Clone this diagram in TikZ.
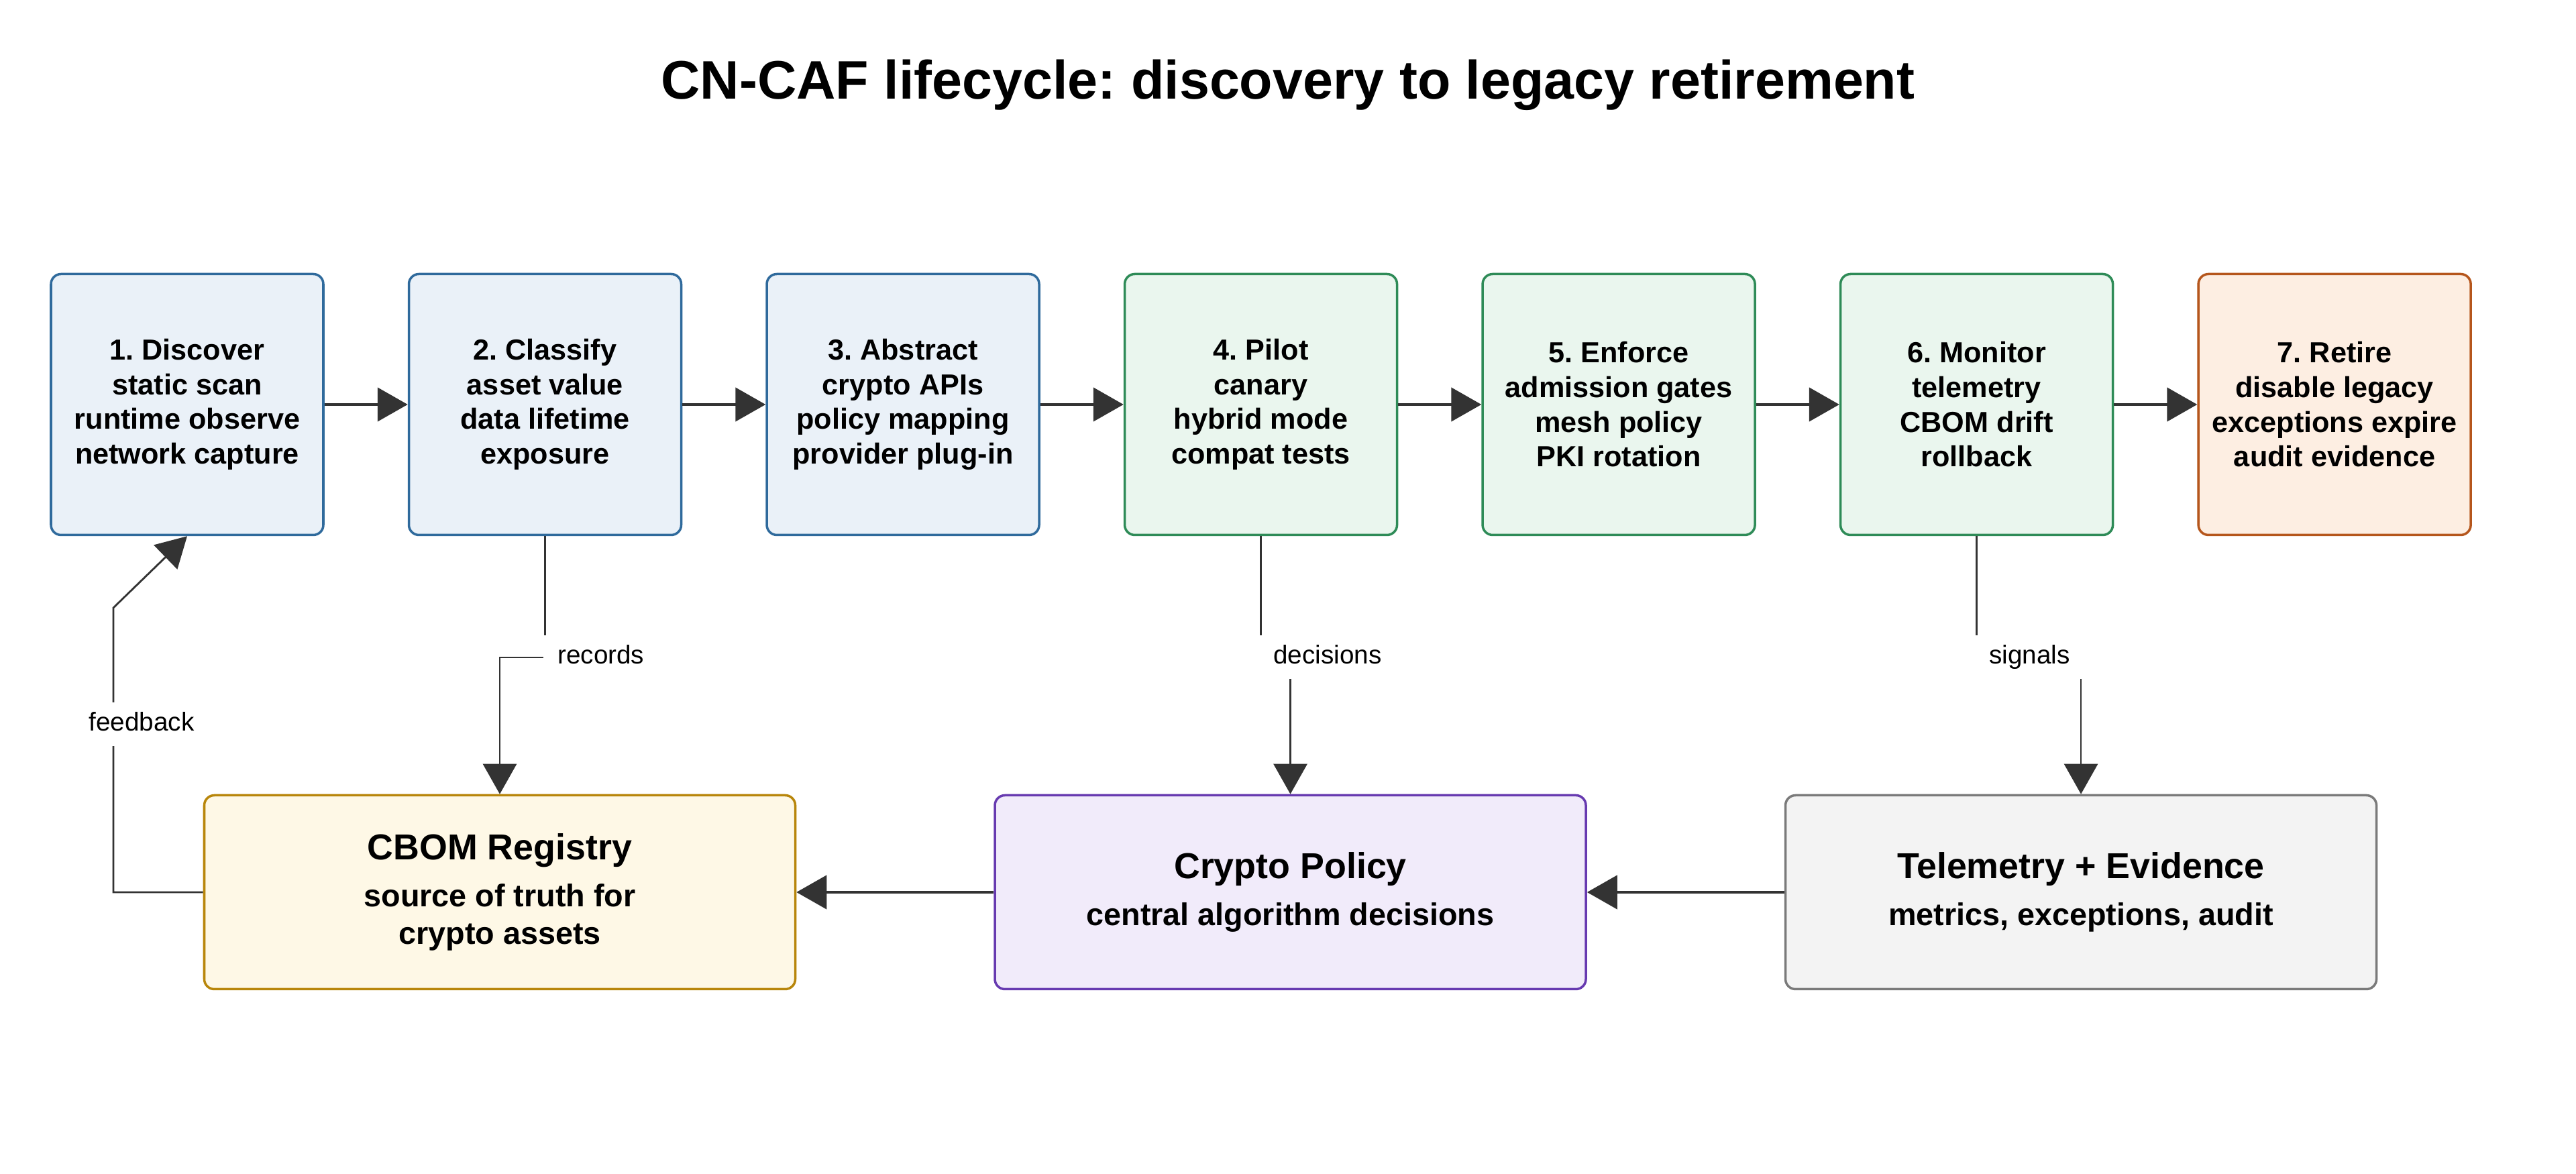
\documentclass[tikz,border=0pt]{standalone}
\usepackage{fontspec}
\setmainfont{Liberation Sans}
\usetikzlibrary{arrows.meta, positioning}
\frenchspacing
\definecolor{bluefill}{HTML}{EAF1F8}
\definecolor{bluedraw}{HTML}{2F6A9C}
\definecolor{greenfill}{HTML}{EAF6EE}
\definecolor{greendraw}{HTML}{2E8B57}
\definecolor{orangefill}{HTML}{FDEEE2}
\definecolor{orangedraw}{HTML}{B5561C}
\definecolor{regfill}{HTML}{FEF8E6}
\definecolor{regdraw}{HTML}{B8860B}
\definecolor{polfill}{HTML}{F1EBFA}
\definecolor{poldraw}{HTML}{673AB0}
\definecolor{telfill}{HTML}{F3F3F3}
\definecolor{teldraw}{HTML}{7A7A7A}
\definecolor{arrowgray}{HTML}{333333}
\tikzset{
  stagenode/.style={
    rectangle, rounded corners=0.15cm,
    minimum width=4.06cm, minimum height=3.89cm,
    align=center, line width=1pt,
    font=\bfseries\fontsize{12.3}{14.7}\selectfont
  },
  discnode/.style={stagenode, draw=bluedraw, fill=bluefill},
  rollnode/.style={stagenode, draw=greendraw, fill=greenfill},
  retirenode/.style={stagenode, draw=orangedraw, fill=orangefill},
  hubnode/.style={
    rectangle, rounded corners=0.15cm,
    minimum width=8.81cm, minimum height=2.89cm,
    align=center, line width=1pt,
    font=\bfseries\fontsize{13.3}{15.9}\selectfont
  },
  titlenode/.style={font=\bfseries\fontsize{23}{27}\selectfont},
  flowarrow/.style={-{Triangle[length=0.45cm, width=0.5cm]}, line width=1.3pt, arrowgray},
  linkarrow/.style={flowarrow, line width=0.8pt},
  edgelabel/.style={fill=white, inner xsep=6pt, inner ysep=4pt,
    text height=8pt, text depth=2.5pt,
    font=\fontsize{11}{13}\selectfont}
}
\newcommand{\hubtitle}[1]{{\fontsize{15.3}{18}\selectfont #1}}

\begin{document}
\begin{tikzpicture}[node distance=1.24cm]
  \useasboundingbox (0,0) rectangle (38.4,17.5);

  \node[titlenode] (title) at (19.2,16.23) {CN-CAF lifecycle: discovery to legacy retirement};

  % Lifecycle stages
  \node[discnode] (s1) at (2.79,11.47) {1. Discover\\static scan\\runtime observe\\network capture};
  \node[discnode, right=of s1] (s2) {2. Classify\\asset value\\data lifetime\\exposure};
  \node[discnode, right=of s2] (s3) {3. Abstract\\crypto APIs\\policy mapping\\provider plug-in};
  \node[rollnode, right=of s3] (s4) {4. Pilot\\canary\\hybrid mode\\compat tests};
  \node[rollnode, right=of s4] (s5) {5. Enforce\\admission gates\\mesh policy\\PKI rotation};
  \node[rollnode, right=of s5] (s6) {6. Monitor\\telemetry\\CBOM drift\\rollback};
  \node[retirenode, right=of s6] (s7) {7. Retire\\disable legacy\\exceptions expire\\audit evidence};

  % Shared services
  \node[hubnode, draw=regdraw, fill=regfill] (reg) at (7.45,4.20)
    {\hubtitle{CBOM Registry}\\[4pt]source of truth for\\crypto assets};
  \node[hubnode, draw=poldraw, fill=polfill, right=2.94cm of reg] (pol)
    {\hubtitle{Crypto Policy}\\[4pt]central algorithm decisions};
  \node[hubnode, draw=teldraw, fill=telfill, right=2.94cm of pol] (tel)
    {\hubtitle{Telemetry + Evidence}\\[4pt]metrics, exceptions, audit};

  % Stage flow
  \foreach \a/\b in {s1/s2, s2/s3, s3/s4, s4/s5, s5/s6, s6/s7}
    \draw[flowarrow] (\a) -- (\b);

  % Service links
  \coordinate (lvl) at (0,7.70);
  \coordinate (fbk) at (1.69,8.44);
  \draw[linkarrow] (s2.south) -- (s2.south |- lvl) -| (reg.north);
  \draw[linkarrow] (s4.south) -- (s4.south |- lvl) -| (pol.north);
  \draw[linkarrow] (s6.south) -- (s6.south |- lvl) -| (tel.north);
  \draw[flowarrow] (tel) -- (pol);
  \draw[flowarrow] (pol) -- (reg);
  \draw[linkarrow] (reg.west) -| (fbk) -- (s1.south);

  % Labels
  \node[edgelabel, anchor=west, xshift=-0.03cm] (lrec) at (s2.south |- lvl) {records};
  \node[edgelabel, anchor=west, xshift=-0.03cm] (ldec) at (s4.south |- lvl) {decisions};
  \node[edgelabel, anchor=west, xshift=-0.03cm] (lsig) at (s6.south |- lvl) {signals};
  \node[edgelabel] (lfb) at (2.11,6.70) {feedback};

\end{tikzpicture}
\end{document}
